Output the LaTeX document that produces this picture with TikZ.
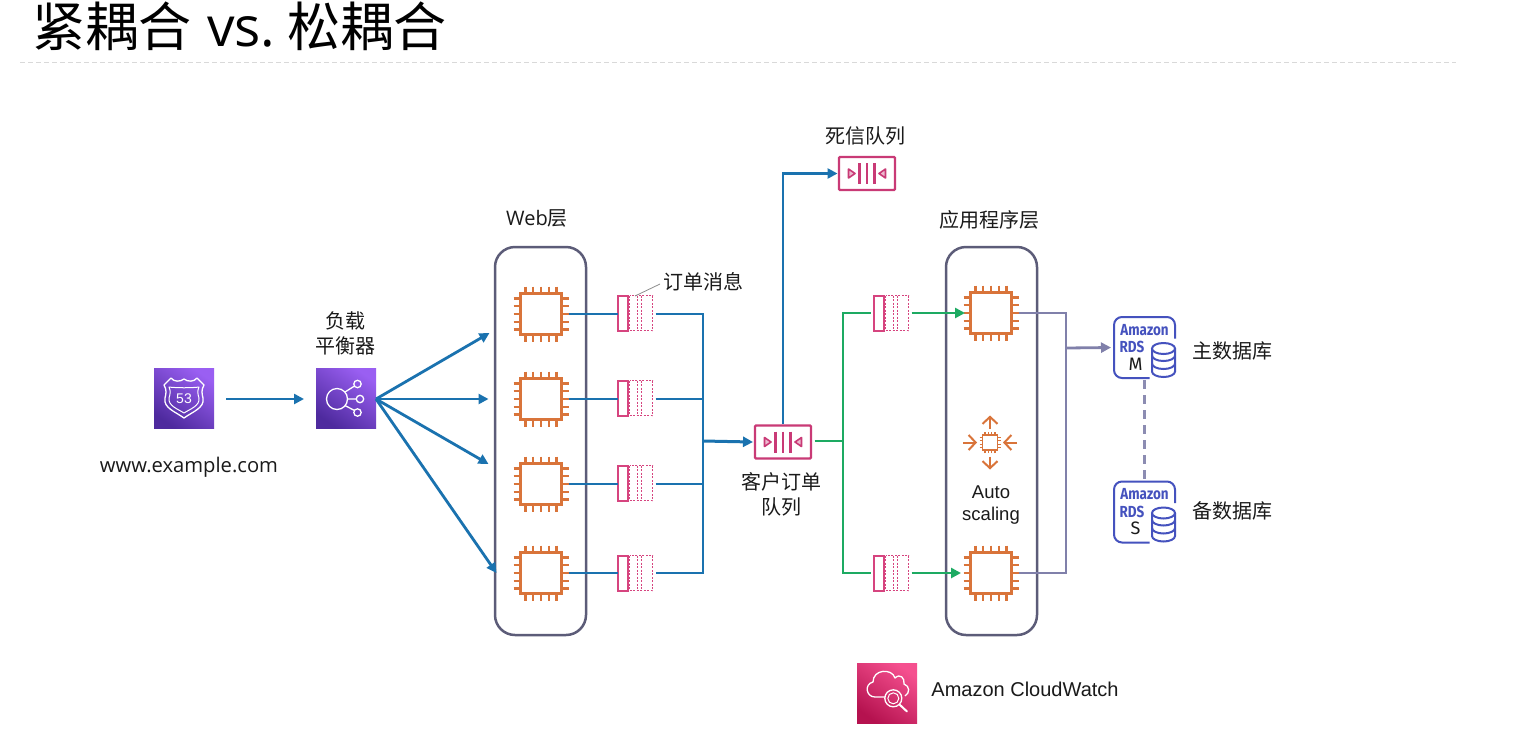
\documentclass[tikz,border=0pt]{standalone}
\usepackage{fontspec}
\setmainfont{Open Sans}
\newfontfamily\cjk{Noto Sans CJK SC}
\newfontfamily\arialf{Liberation Sans}
\newfontfamily\rdsf{Fira Sans}
\usetikzlibrary{arrows.meta,calc}
\definecolor{flowblue}{HTML}{1A72AF}
\definecolor{flowgreen}{HTML}{1DAA62}
\definecolor{flowgrey}{HTML}{8080AA}
\definecolor{dashgrey}{HTML}{8C8CB2}
\definecolor{boxgrey}{HTML}{5C5C78}
\definecolor{qpink}{HTML}{C93A76}
\definecolor{qpinkb}{HTML}{D6447F}
\definecolor{chiporange}{HTML}{D9743A}
\definecolor{rdsblue}{HTML}{4552BE}
\definecolor{txt}{HTML}{1A1A1A}
\definecolor{purpleA}{HTML}{9A5FF2}
\definecolor{purpleB}{HTML}{4E2A9E}
\definecolor{pinkA}{HTML}{F5508F}
\definecolor{pinkB}{HTML}{B5124F}
\tikzset{
  x=1pt,y=-1pt,
  tip/.style={-{Triangle[length=10pt,width=10pt]}},
  bflow/.style={draw=flowblue,line width=2.8pt},
  gflow/.style={draw=flowgreen,line width=2.8pt},
  pflow/.style={draw=flowgrey,line width=2.8pt},
  tier/.style={draw=boxgrey,line width=2.5pt,rounded corners=20pt,minimum width=91pt,minimum height=388pt,inner sep=0pt},
  label/.style={text=txt,font=\cjk\fontsize{20}{25}\selectfont,inner sep=0pt,align=center},
  plainlabel/.style={text=txt,font=\arialf\fontsize{18.5}{22.5}\selectfont,inner sep=0pt,align=center},
  hold/.style={minimum size=#1,inner sep=0pt,outer sep=0pt},
  purpleicon/.style={hold=60pt,top color=purpleA,bottom color=purpleB,shading angle=-35},
  pinkicon/.style={hold=60pt,top color=pinkA,bottom color=pinkB,shading angle=-35},
  iconline/.style={draw=white,line width=1.3pt},
  barb/.style={chiporange,line width=2pt,-{Straight Barb[length=7pt,width=15pt,line width=2pt]}},
  rdstext/.style={inner sep=0pt,text=rdsblue,font=\rdsf\bfseries\fontsize{16}{16}\selectfont,xscale=.84},
}
\newcommand{\chipicon}[3]{%
  \node[hold=55pt] (#1) at (#2,#3) {};
  \begin{scope}[shift={(#2,#3)}]
    \draw[chiporange,line width=2.2pt] (-20.5,-20.5) rectangle (20.5,20.5);
    \foreach \p in {-15.5,-7.75,0,7.75,15.5}{
      \draw[chiporange,line width=2.2pt] (\p,-27.5) -- (\p,-20.5);
      \draw[chiporange,line width=2.2pt] (\p,27.5) -- (\p,20.5);
      \draw[chiporange,line width=2.2pt] (-27.5,\p) -- (-20.5,\p);
      \draw[chiporange,line width=2.2pt] (27.5,\p) -- (20.5,\p);
    }
  \end{scope}}
\newcommand{\msgq}[3]{%
  \node[minimum width=35pt,minimum height=35pt,inner sep=0pt,outer sep=0pt] (#1) at (#2,#3) {};
  \begin{scope}[shift={(#2,#3)}]
    \draw[draw=qpinkb,line width=2pt,fill=white] (-17.5,-17.5) rectangle (-7.5,17.5);
    \draw[draw=qpinkb,line width=1.8pt,dash pattern=on 2pt off 1.5pt] (-5.5,-17.5) rectangle (17.5,17.5);
    \draw[draw=qpinkb,line width=1.8pt,dash pattern=on 2pt off 1.5pt] (2.5,-17.5) -- (2.5,17.5) (6.5,-17.5) -- (6.5,17.5);
  \end{scope}}
\newcommand{\bigq}[3]{%
  \node[minimum width=57pt,minimum height=33pt,inner sep=0pt,outer sep=0pt] (#1) at (#2,#3) {};
  \begin{scope}[shift={(#2,#3)}]
    \draw[qpink,line width=2.2pt,rounded corners=1pt] (-28,-16.5) rectangle (28,16.5);
    \draw[qpink,line width=2.2pt] (-7.5,-10.5) -- (-7.5,10.5) (0,-10.5) -- (0,10.5) (7.5,-10.5) -- (7.5,10.5);
    \draw[qpink,line width=1.6pt,fill=qpink!35,line join=round] (-18.5,-4.5) -- (-12,0) -- (-18.5,4.5) -- cycle;
    \draw[qpink,line width=1.6pt,fill=qpink!35,line join=round] (18.5,-4.5) -- (12,0) -- (18.5,4.5) -- cycle;
  \end{scope}}
\newcommand{\rdsicon}[4]{%
  \node[hold=61pt] (#1) at (#2,#3) {};
  \begin{scope}[shift={(#2,#3)}]
    \draw[rdsblue,line width=2pt,rounded corners=8pt] (30.5,-9) -- (30.5,-30.5) -- (-30.5,-30.5) -- (-30.5,30.5) -- (5,30.5);
    \node[rdstext] (#1-a) at (0,-17.5) {Amazon};
    \node[rdstext] (#1-r) at (-12.5,-0.5) {RDS};
    \node[inner sep=0pt,text=txt,font=\rdsf\fontsize{18}{18}\selectfont] (#1-l) at (-9,16.5) {#4};
    \draw[rdsblue,line width=2pt,fill=white] (7.5,1) -- (7.5,24) arc[start angle=180,end angle=0,x radius=11.5,y radius=5.5] -- (30.5,1);
    \draw[rdsblue,line width=2pt,fill=white] (19,1) ellipse[x radius=11.5,y radius=5.5];
    \draw[rdsblue,line width=2pt] (7.5,8) arc[start angle=180,end angle=0,x radius=11.5,y radius=5.5];
    \draw[rdsblue,line width=2pt] (7.5,16) arc[start angle=180,end angle=0,x radius=11.5,y radius=5.5];
  \end{scope}}
\begin{document}
\begin{tikzpicture}
\useasboundingbox[fill=white] (0,0) rectangle (1514,732);
% title
\node[anchor=base west,inner sep=0pt,text=black,font=\cjk\fontsize{53}{53}\selectfont] (title) at (32,46) {紧耦合\hspace{16pt}{\fontspec{Open Sans}\fontsize{55}{55}\selectfont vs.}\hspace{12pt}松耦合};
\coordinate (ruleL) at (20,62);
\coordinate (ruleR) at (1456,62);
\draw[draw=black!15,line width=1pt,dash pattern=on 5pt off 3pt] (ruleL) -- (ruleR);

% tiers
\node[tier] (web) at (540.5,441) {};
\node[tier] (app) at (991.5,441) {};

% route 53 icon
\node[purpleicon] (r53) at (184,398) {};
\draw[iconline,line join=round] (171,378) .. controls (174,382) and (180,382) .. (184,379) .. controls (188,382) and (194,382) .. (197,378) -- (204,385) .. controls (201,390) and (202,394) .. (203,398) .. controls (205,408) and (192,412) .. (184,418) .. controls (176,412) and (163,408) .. (165,398) .. controls (166,394) and (167,390) .. (164,385) -- cycle;
\draw[draw=white,line width=1pt,line join=round] (169,387) .. controls (176,388) and (192,388) .. (199,387) .. controls (197,391) and (198,395) .. (199,398) .. controls (200,406) and (190,409) .. (184,413) .. controls (178,409) and (168,406) .. (169,398) .. controls (170,395) and (171,391) .. (169,387) -- cycle;
\node[inner sep=0pt,text=white,font=\arialf\fontsize{14}{14}\selectfont] (r53t) at (184,399) {53};

% load balancer icon
\node[purpleicon] (lb) at (346,398) {};
\coordinate (lbc) at (337,399);
\coordinate (lb1) at (357.5,384);
\coordinate (lb2) at (360,399);
\coordinate (lb3) at (357.5,412.5);
\draw[iconline] (lbc) circle[radius=10.5];
\draw[iconline] (lb1) circle[radius=3.7];
\draw[iconline] (lb2) circle[radius=3.7];
\draw[iconline] (lb3) circle[radius=3.7];
\draw[iconline] (345,392) -- (354.5,386) (347.5,399) -- (356.3,399) (345,405.5) -- (354.5,410.5);

% cloudwatch icon
\node[pinkicon] (cw) at (887,693) {};
\draw[iconline,line join=round] (885,697) -- (875,697) .. controls (866,697) and (864,684) .. (873,682) .. controls (873,669) and (892,668) .. (895,678) .. controls (900,673) and (905,678) .. (904,684) .. controls (910,686) and (910,693) .. (905,696);
\draw[iconline] (893.3,698.3) circle[radius=8.5];
\draw[draw=white,line width=1pt] (893.3,698.3) circle[radius=5.5];
\draw[draw=white,line width=2pt,line cap=round] (899.5,704.5) -- (907,711.5);

% web tier
\chipicon{w1}{541}{314}
\chipicon{w2}{541}{399}
\chipicon{w3}{541}{484}
\chipicon{w4}{541}{573}
\msgq{m1}{635}{313}
\msgq{m2}{635}{398}
\msgq{m3}{635}{483}
\msgq{m4}{635}{573}

% app tier
\chipicon{a1}{991}{313}
\chipicon{a2}{991}{573}
\msgq{m5}{891}{313}
\msgq{m6}{891}{573}

% queues
\bigq{q}{783}{442}
\bigq{dlq}{867}{173.5}

% auto scaling icon
\node[hold=54pt] (as) at (990,442.5) {};
\begin{scope}[shift={(990,442.5)}]
  \draw[chiporange,line width=1.8pt] (-7.5,-7.5) rectangle (7.5,7.5);
  \foreach \p in {-5,-1.7,1.7,5}{
    \draw[chiporange,line width=1.1pt] (\p,-10.5) -- (\p,-7.5) (\p,10.5) -- (\p,7.5) (-10.5,\p) -- (-7.5,\p) (10.5,\p) -- (7.5,\p);
  }
  \draw[barb] (0,-14) -- (0,-27);
  \draw[barb] (0,14) -- (0,27);
  \draw[barb] (-27,0) -- (-13,0);
  \draw[barb] (27,0) -- (13,0);
\end{scope}

% RDS
\rdsicon{rm}{1144.5}{347.5}{M}
\rdsicon{rs}{1144.5}{512}{S}

% junctions
\coordinate (busT) at (703,314);
\coordinate (busB) at (703,573);
\coordinate (busM) at (703,441);
\coordinate (gbus) at (843,441);
\coordinate (pbus) at (1066,348);

% connectors: left part
\draw[bflow,tip] (r53.east) ++(12,1) -- ($(lb.west)+(-12,1)$);
\draw[bflow,tip] (lb.east) ++(0,1) -- ($(w1.west)+(-24,19)$);
\draw[bflow,tip] (lb.east) ++(0,1) -- ($(w2.west)+(-25,0)$);
\draw[bflow,tip] (lb.east) ++(0,1) -- ($(w3.west)+(-25,-20)$);
\draw[bflow,tip] (lb.east) ++(0,1) -- ($(w4.west)+(-17,0)$);
% web to messages to bus
\foreach \i in {1,2,3,4}{
  \draw[bflow] (w\i.east) -- (w\i.east -| m\i.west);
}
\draw[bflow,line join=miter] (m1.east) ++(3,1) -- (busT) -- (busB) -- ($(m4.east)+(3,0)$);
\draw[bflow] (m2.east) ++(3,1) -- (703,399);
\draw[bflow] (m3.east) ++(3,1) -- (703,484);
\draw[bflow,line width=3pt,tip] (busM) -- ($(q.west)+(-1.5,0)$);
% to dead-letter queue
\draw[bflow,tip] (q.north) ++(0,-2) -- (783,173.5) -- ($(dlq.west)+(-1,0)$);
% green
\draw[gflow] (q.east) ++(3,-1) -- (gbus);
\draw[gflow,line join=miter] (m5.west) ++(-3,0) -- (843,313) -- (843,573) -- ($(m6.west)+(-3,0)$);
\draw[gflow,tip] (m5.east) ++(3,0) -- ($(a1.west)+(1.5,0)$);
\draw[gflow,tip] (m6.east) ++(3,0) -- ($(a2.west)+(-2.5,0)$);
% grey
\draw[pflow,line join=miter] (a1.east) -- (1066,313) -- (1066,573) -- (a2.east);
\draw[pflow,tip] (pbus) -- ($(rm.west)+(-3,0)$);
\draw[draw=dashgrey,line width=2.5pt,dash pattern=on 9pt off 6pt,shorten <=2pt,shorten >=2pt] (rm.south) -- (rs.north);
% leader
\coordinate (lead) at (660,284);
\draw[draw=black!45,line width=.8pt] (635,296) -- (lead);

% labels
\node[label] (lweb) at (537,218) {{\fontspec{Open Sans}Web}层};
\node[label] (lapp) at (989,220) {应用程序层};
\node[label] (llb) at (345,333) {负载\\平衡器};
\node[label] (ldlq) at (865,136) {死信队列};
\node[label] (lmsg) at (703.5,282) {订单消息};
\node[label] (lq) at (781,494) {客户订单\\队列};
\node[label] (lrm) at (1232,351) {主数据库};
\node[label] (lrs) at (1232,511) {备数据库};
\node[text=txt,font=\fontsize{20.2}{20}\selectfont,inner sep=0pt] (lr53) at (189,467.5) {www.example.com};
\node[plainlabel] (las) at (991,505) {Auto\\scaling};
\node[text=txt,font=\arialf\fontsize{20}{20}\selectfont,inner sep=0pt] (lcw) at (1025,689) {Amazon CloudWatch};
\end{tikzpicture}
\end{document}
